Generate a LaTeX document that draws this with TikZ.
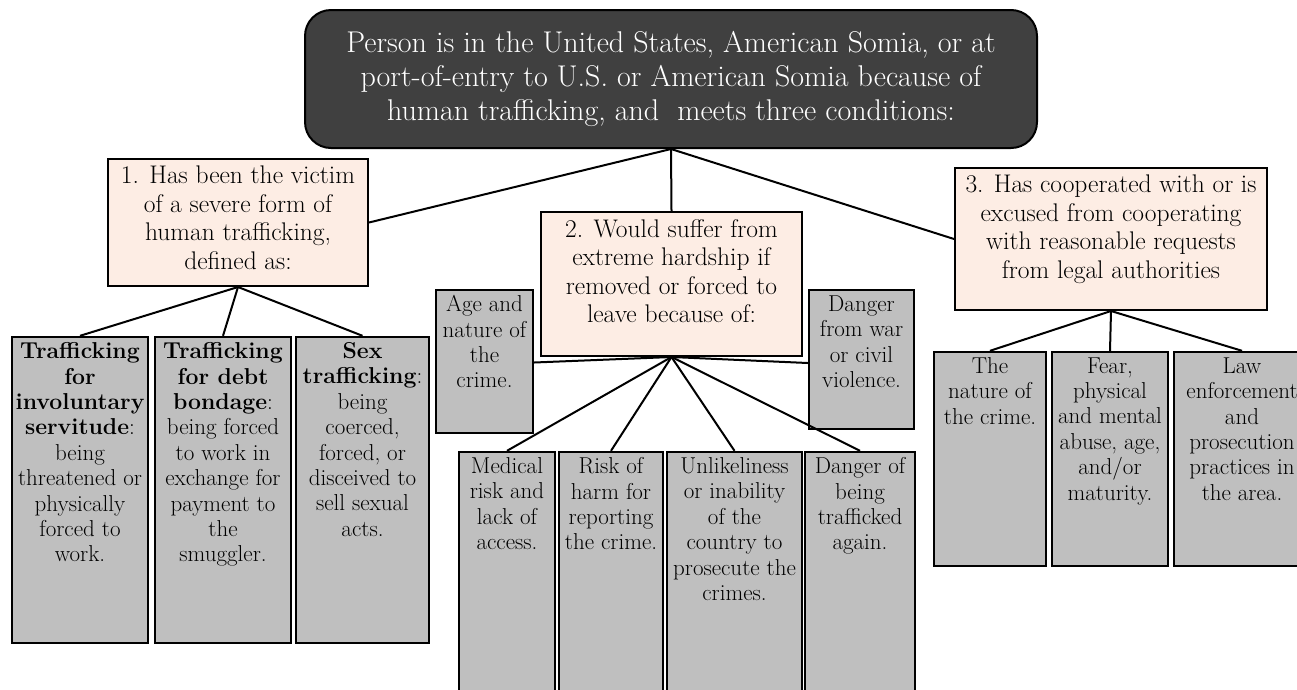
\documentclass[tikz,border=0pt]{standalone}
\usepackage{fontspec}
\definecolor{topfill}{RGB}{64,64,64}
\definecolor{pinkfill}{RGB}{253,237,228}
\definecolor{grayfill}{RGB}{191,191,191}
\newcommand{\osn}[1]{{\addfontfeature{Numbers=OldStyle}#1}}
\tikzset{
  topbox/.style={draw=black, line width=2pt, fill=topfill, rounded corners=26pt, inner sep=0pt},
  pinkbox/.style={draw=black, line width=2pt, fill=pinkfill, inner sep=0pt},
  graybox/.style={draw=black, line width=2.4pt, fill=grayfill, inner sep=0pt},
  pinktext/.style={anchor=north, align=center, inner sep=0pt, font=\fontsize{25.5}{28.5}\selectfont},
  graytext/.style={anchor=north, align=center, inner sep=0pt, font=\fontsize{23}{25.4}\selectfont},
  conn/.style={draw=black, line width=2pt}
}
\newcommand{\mkbox}[7]{%
  \node[#1, minimum width={(#4-#3)*1pt}, minimum height={(#6-#5)*1pt}] (#2) at ({(#3+#4)/2},{(#5+#6)/2}) {};
  \node[#7] (#2-t) at ([yshift=-\boxpad]#2.north) {\boxtext};}
\newlength{\boxpad}
\begin{document}
\begin{tikzpicture}[x=1pt,y=-1pt]
\useasboundingbox (0,0) rectangle (1297,689);
\clip (0,0) rectangle (1297,689);
% top box
\node[topbox, minimum width=732pt, minimum height=138pt, text=white, align=center,
      font=\fontsize{30}{34}\selectfont] (top) at (671,79)
  {Person is in the United States, American Somia, or at\\port-of-entry to U.S. or American Somia because of\\human trafficking, and\ \ meets three conditions:};
% pink boxes
\setlength{\boxpad}{8pt}
\def\boxtext{1. Has been the victim\\of a severe form of\\human trafficking,\\defined as:}
\mkbox{pinkbox}{b1}{108}{368}{159}{286}{pinktext}
\def\boxtext{\osn{2}. Would suffer from\\extreme hardship if\\removed or forced to\\leave because of:}
\mkbox{pinkbox}{b2}{541}{802}{212}{356}{pinktext}
\def\boxtext{\osn{3}. Has cooperated with or is\\excused from cooperating\\with reasonable requests\\from legal authorities}
\mkbox{pinkbox}{b3}{955}{1267}{168}{310}{pinktext}
% gray boxes, group 1
\setlength{\boxpad}{6.5pt}
\def\boxtext{\textbf{Trafficking}\\\textbf{for}\\\textbf{involuntary}\\\textbf{servitude}:\\being\\threatened or\\physically\\forced to\\work.}
\mkbox{graybox}{g1}{12}{148}{337}{643}{graytext}
\def\boxtext{\textbf{Trafficking}\\\textbf{for debt}\\\textbf{bondage}:\\being forced\\to work in\\exchange for\\payment to\\the\\smuggler.}
\mkbox{graybox}{g2}{155}{291}{337}{643}{graytext}
\def\boxtext{\textbf{Sex}\\\textbf{trafficking}:\\being\\coerced,\\forced, or\\disceived to\\sell sexual\\acts.}
\mkbox{graybox}{g3}{296}{429}{337}{643}{graytext}
% group 2
\def\boxtext{Age and\\nature of\\the\\crime.}
\mkbox{graybox}{a1}{436}{533}{290}{433}{graytext}
\def\boxtext{Danger\\from war\\or civil\\violence.}
\mkbox{graybox}{a2}{809}{914}{290}{429}{graytext}
\def\boxtext{Medical\\risk and\\lack of\\access.}
\mkbox{graybox}{m1}{459}{555}{452}{720}{graytext}
\def\boxtext{Risk of\\harm for\\reporting\\the crime.}
\mkbox{graybox}{m2}{559}{663}{452}{720}{graytext}
\def\boxtext{Unlikeliness\\or inability\\of the\\country to\\prosecute the\\crimes.}
\mkbox{graybox}{m3}{667}{802}{452}{720}{graytext}
\def\boxtext{Danger of\\being\\trafficked\\again.}
\mkbox{graybox}{m4}{805}{915}{452}{720}{graytext}
% group 3
\def\boxtext{The\\nature of\\the crime.}
\mkbox{graybox}{r1}{934}{1046}{352}{566}{graytext}
\def\boxtext{Fear,\\physical\\and mental\\abuse, age,\\and/or\\maturity.}
\mkbox{graybox}{r2}{1052}{1168}{352}{566}{graytext}
\def\boxtext{Law\\enforcement\\and\\prosecution\\practices in\\the area.}
\mkbox{graybox}{r3}{1174}{1310}{352}{566}{graytext}
% connectors
\draw[conn] (top.south) -- (b1.east);
\draw[conn] (top.south) -- (b2.north);
\draw[conn] (top.south) -- (b3.west);
\draw[conn] (b1.south) -- (g1.north);
\draw[conn] (b1.south) -- (g2.north);
\draw[conn] (b1.south) -- (g3.north);
\draw[conn] (b2.south) -- ([yshift=-1pt]a1.east);
\draw[conn] (b2.south) -- ([yshift=-3.5pt]a2.west);
\draw[conn] (b2.south) -- (m1.north);
\draw[conn] (b2.south) -- (m2.north);
\draw[conn] (b2.south) -- (m3.north);
\draw[conn] (b2.south) -- (m4.north);
\draw[conn] (b3.south) -- (r1.north);
\draw[conn] (b3.south) -- (r2.north);
\draw[conn] (b3.south) -- (r3.north);
\end{tikzpicture}
\end{document}
